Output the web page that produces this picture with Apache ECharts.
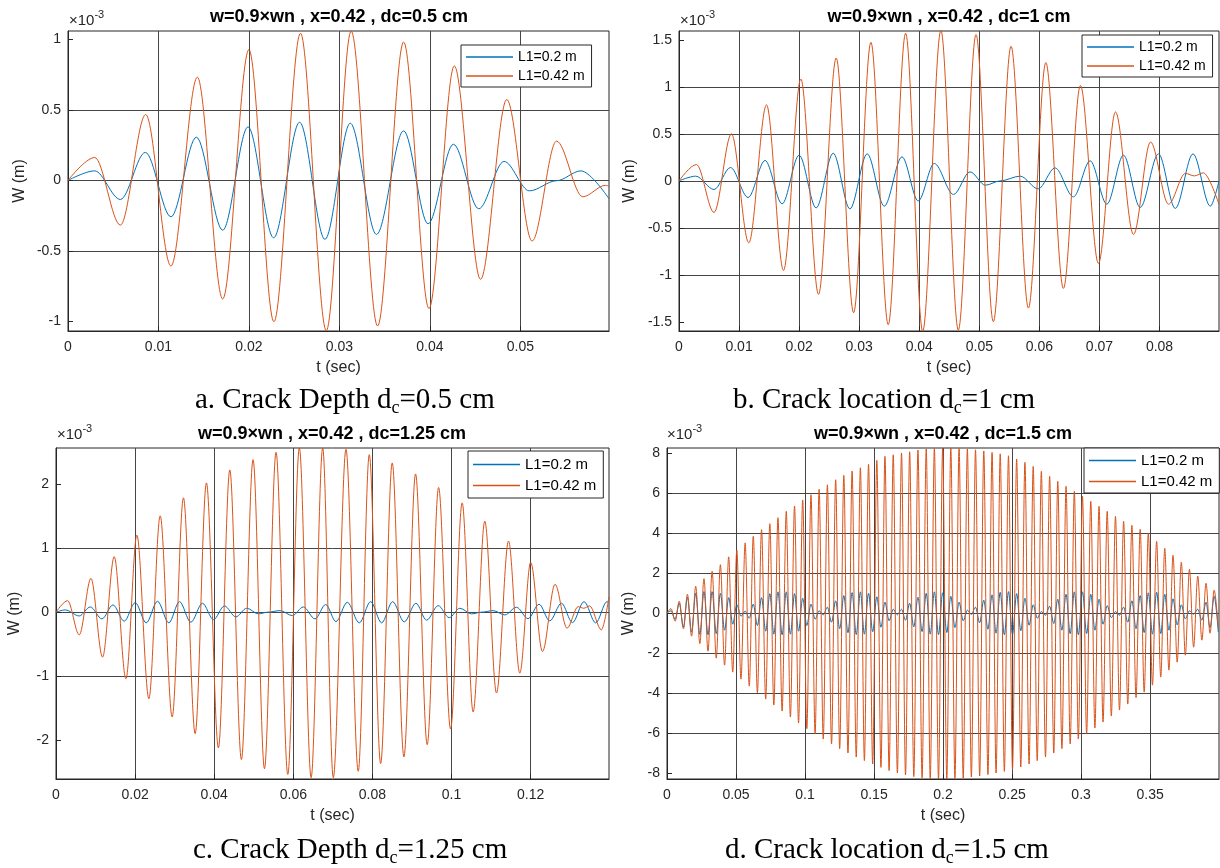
<!DOCTYPE html>
<html>
<head>
<meta charset="utf-8">
<script src="https://cdn.jsdelivr.net/npm/echarts@6/dist/echarts.min.js"></script>
<style>
  html, body { margin: 0; padding: 0; background: #ffffff; }
  #chart { width: 1220px; height: 868px; }
</style>
</head>
<body>
<div id="chart"></div>
<script>
// Legend entries shared by all four panels
const SERIES_NAMES = ['L1=0.2 m', 'L1=0.42 m'];
const SERIES_COLORS = ['#0072BD', '#D95319'];

// Panel titles and figure captions
const PANEL_TITLES = [
  'w=0.9×wn , x=0.42 , dc=0.5 cm',
  'w=0.9×wn , x=0.42 , dc=1 cm',
  'w=0.9×wn , x=0.42 , dc=1.25 cm',
  'w=0.9×wn , x=0.42 , dc=1.5 cm'
];
const CAPTIONS = [
  ['a. Crack Depth d', 'c', '=0.5 cm'],
  ['b. Crack location d', 'c', '=1 cm'],
  ['c. Crack Depth d', 'c', '=1.25 cm'],
  ['d. Crack location d', 'c', '=1.5 cm']
];

// Axis extents (t in s, W in 1e-3 m) and tick values
const X_MAX = [0.0598, 0.0899, 0.1398, 0.3999];
const X_STEP = [0.01, 0.01, 0.02, 0.05];
const Y_MIN = [-1.069, -1.597, -2.6, -8.3];
const Y_MAX = [1.061, 1.594, 2.56, 8.27];
const Y_TICKS_A = [-1, -0.5, 0, 0.5, 1];
const Y_TICKS_B = [-1.5, -1, -0.5, 0, 0.5, 1, 1.5];
const Y_TICKS_C = [-2, -1, 0, 1, 2];
const Y_TICKS_D = [-8, -6, -4, -2, 0, 2, 4, 6, 8];

// Response extrema [t (s), W (1e-3 m)] -- panel a, dc = 0.5 cm
const A_SHORT = [
  [0, 0], [0.00295, 0.068], [0.00579, -0.135], [0.00855, 0.199], [0.01138, -0.258],
  [0.01419, 0.307], [0.0171, -0.353], [0.0199, 0.38], [0.02273, -0.407], [0.0256, 0.413],
  [0.0284, -0.418], [0.0312, 0.406], [0.0341, -0.383], [0.0371, 0.352], [0.0398, -0.308],
  [0.0426, 0.257], [0.0454, -0.201], [0.0482, 0.135], [0.0510, -0.074], [0.0540, -0.002],
  [0.0567, 0.068], [0.0598, -0.13]
];
const A_LONG = [
  [0, 0], [0.00295, 0.163], [0.00579, -0.317], [0.00859, 0.468], [0.01138, -0.608],
  [0.0143, 0.733], [0.0171, -0.842], [0.0200, 0.929], [0.02276, -1.003], [0.0257, 1.045],
  [0.02855, -1.067], [0.0313, 1.06], [0.03422, -1.033], [0.0371, 0.983], [0.0399, -0.91],
  [0.0427, 0.813], [0.0456, -0.702], [0.0485, 0.574], [0.0513, -0.43], [0.0540, 0.279],
  [0.0569, -0.116], [0.0594, -0.035], [0.0598, -0.04]
];

// Panel b, dc = 1 cm
const B_SHORT = [
  [0, 0], [0.00278, 0.05], [0.00583, -0.092], [0.00857, 0.142], [0.0115, -0.177],
  [0.01433, 0.217], [0.01717, -0.244], [0.0200, 0.273], [0.02283, -0.287], [0.02567, 0.294],
  [0.02845, -0.298], [0.03133, 0.287], [0.03417, -0.269], [0.03712, 0.255], [0.03983, -0.213],
  [0.0425, 0.185], [0.0457, -0.145], [0.04845, 0.096], [0.0510, -0.046], [0.0535, 0.0],
  [0.0568, 0.05], [0.0598, -0.085], [0.0626, 0.138], [0.06567, -0.17], [0.06845, 0.213],
  [0.07123, -0.248], [0.0740, 0.273], [0.07678, -0.283], [0.07983, 0.287], [0.08262, -0.293],
  [0.08557, 0.287], [0.08845, -0.269], [0.0899, 0.0]
];
const B_LONG = [
  [0, 0], [0.0029, 0.174], [0.00583, -0.336], [0.00873, 0.5], [0.01162, -0.659],
  [0.01457, 0.808], [0.0174, -0.952], [0.02028, 1.084], [0.02323, -1.207], [0.02617, 1.307],
  [0.02907, -1.403], [0.03195, 1.474], [0.03483, -1.53], [0.03773, 1.57], [0.04057, -1.6],
  [0.0436, 1.6], [0.0465, -1.587], [0.04945, 1.556], [0.05233, -1.498], [0.05528, 1.431],
  [0.05817, -1.353], [0.06107, 1.258], [0.064, -1.144], [0.06683, 1.014], [0.06983, -0.878],
  [0.07267, 0.733], [0.07567, -0.57], [0.0785, 0.414], [0.0815, -0.248], [0.0843, 0.079],
  [0.0858, 0.053], [0.0873, 0.085], [0.0899, -0.25]
];

// Panel c, dc = 1.25 cm
const C_SHORT = [
  [0, 0], [0.00234, 0.036], [0.00588, -0.058], [0.00866, 0.082], [0.01162, -0.104],
  [0.0144, 0.114], [0.01725, -0.14], [0.02003, 0.15], [0.0228, -0.166], [0.02566, 0.171],
  [0.02853, -0.166], [0.03121, 0.165], [0.03409, -0.156], [0.03702, 0.14], [0.0398, -0.115],
  [0.04258, 0.098], [0.04545, -0.073], [0.04823, 0.062], [0.05116, -0.026], [0.0535, 0.0],
  [0.05664, 0.025], [0.05975, -0.053], [0.06253, 0.082], [0.06548, -0.104], [0.06818, 0.12],
  [0.07078, -0.146], [0.07364, 0.155], [0.07667, -0.166], [0.07955, 0.165], [0.08232, -0.166],
  [0.0851, 0.165], [0.08803, -0.151], [0.09098, 0.14], [0.09369, -0.124], [0.09662, 0.103],
  [0.0994, -0.084], [0.1021, 0.062], [0.10505, -0.026], [0.1075, 0.0], [0.1105, 0.025],
  [0.11346, -0.042], [0.11641, 0.078], [0.11934, -0.1], [0.12212, 0.124], [0.12482, -0.135],
  [0.12778, 0.14], [0.13056, -0.162], [0.13348, 0.165], [0.13644, -0.166], [0.1393, 0.165],
  [0.1398, 0.16]
];
const C_LONG = [
  [0, 0], [0.00293, 0.18], [0.00588, -0.353], [0.00884, 0.528], [0.01177, -0.7],
  [0.01472, 0.865], [0.01768, -1.037], [0.02045, 1.202], [0.02348, -1.348], [0.02634, 1.503],
  [0.02937, -1.633], [0.03222, 1.783], [0.03518, -1.893], [0.03803, 2.016], [0.04106, -2.115],
  [0.04394, 2.218], [0.04687, -2.297], [0.04982, 2.379], [0.0527, -2.44], [0.05563, 2.493],
  [0.0586, -2.53], [0.06152, 2.56], [0.0645, -2.58], [0.06742, 2.56], [0.0701, -2.58],
  [0.07331, 2.54], [0.07641, -2.48], [0.0792, 2.457], [0.08207, -2.36], [0.085, 2.327],
  [0.08795, -2.255], [0.0909, 2.156], [0.09384, -2.064], [0.09672, 1.944], [0.09975, -1.82],
  [0.10268, 1.705], [0.10545, -1.555], [0.1084, 1.42], [0.11136, -1.26], [0.1144, 1.109],
  [0.11725, -0.949], [0.12, 0.778], [0.12298, -0.613], [0.12616, 0.435], [0.12919, -0.249],
  [0.132, 0.087], [0.1334, 0.062], [0.1349, 0.098], [0.13788, -0.275], [0.1398, 0.243]
];

// Panel d, dc = 1.5 cm
const D_SHORT = [
  [0, 0],
  [0.0029, 0.12], [0.0059, -0.3], [0.0089, 0.5], [0.0119, -0.7], [0.0148, 0.8], [0.0178, -0.95],
  [0.0208, 1.0], [0.0238, -1.06], [0.0268, 1.08], [0.0297, -1.08], [0.0327, 1.08], [0.0357, -1.02],
  [0.0387, 1.0], [0.0417, -0.85], [0.0447, 0.78], [0.0476, -0.55], [0.0506, 0.42], [0.0536, -0.15],
  [0.0566, 0.1], [0.0596, -0.25], [0.0625, 0.45], [0.0655, -0.62], [0.0685, 0.78], [0.0715, -0.9],
  [0.0745, 0.98], [0.0774, -1.05], [0.0804, 1.07], [0.0834, -1.08], [0.0864, 1.07], [0.0894, -1.05],
  [0.0924, 0.98], [0.0953, -0.9], [0.0983, 0.75], [0.1013, -0.62], [0.1043, 0.45], [0.1073, -0.3],
  [0.1102, 0.12], [0.1132, -0.08], [0.1162, 0.3], [0.1192, -0.45], [0.1222, 0.62], [0.1251, -0.78],
  [0.1281, 0.88], [0.1311, -0.98], [0.1341, 1.03], [0.1371, -1.07], [0.1401, 1.07], [0.1430, -1.05],
  [0.1460, 1.0], [0.1490, -0.93], [0.1520, 0.82], [0.1550, -0.7], [0.1579, 0.55], [0.1609, -0.38],
  [0.1639, 0.2], [0.1669, -0.08], [0.1699, 0.2], [0.1728, -0.35], [0.1758, 0.5], [0.1788, -0.68],
  [0.1818, 0.8], [0.1848, -0.92], [0.1878, 1.0], [0.1907, -1.05], [0.1937, 1.07], [0.1967, -1.07],
  [0.1997, 1.02], [0.2027, -0.97], [0.2056, 0.85], [0.2086, -0.72], [0.2116, 0.55], [0.2146, -0.38],
  [0.2176, 0.15], [0.2205, -0.06], [0.2235, 0.3], [0.2265, -0.48], [0.2295, 0.65], [0.2325, -0.8],
  [0.2355, 0.92], [0.2384, -1.0], [0.2414, 1.05], [0.2444, -1.08], [0.2474, 1.08], [0.2503, -1.05],
  [0.2533, 0.98], [0.2563, -0.88], [0.2593, 0.75], [0.2623, -0.6], [0.2653, 0.42], [0.2682, -0.25],
  [0.2712, 0.08], [0.2742, -0.1], [0.2772, 0.35], [0.2802, -0.52], [0.2831, 0.7], [0.2861, -0.85],
  [0.2891, 0.95], [0.2921, -1.03], [0.2951, 1.07], [0.2980, -1.08], [0.3010, 1.07], [0.3040, -1.02],
  [0.3070, 0.95], [0.3100, -0.85], [0.3130, 0.7], [0.3159, -0.55], [0.3189, 0.38], [0.3219, -0.22],
  [0.3249, 0.08], [0.3278, -0.1], [0.3308, 0.3], [0.3338, -0.45], [0.3368, 0.62], [0.3398, -0.78],
  [0.3428, 0.88], [0.3457, -0.97], [0.3487, 1.02], [0.3517, -1.05], [0.3547, 1.05], [0.3577, -1.02],
  [0.3606, 0.95], [0.3636, -0.85], [0.3666, 0.72], [0.3696, -0.58], [0.3726, 0.42], [0.3755, -0.28],
  [0.3785, 0.12], [0.3815, -0.05], [0.3845, 0.2], [0.3875, -0.35], [0.3905, 0.55], [0.3934, -0.72],
  [0.3964, 0.85], [0.3994, -0.95]
];
const D_LONG = [
  [0, 0],
  [0.0029, 0.23], [0.0059, -0.4], [0.0089, 0.6], [0.0119, -0.78], [0.0148, 0.95], [0.0178, -1.15],
  [0.0208, 1.35], [0.0238, -1.52], [0.0268, 1.73], [0.0297, -1.9], [0.0327, 2.1], [0.0357, -2.25],
  [0.0387, 2.43], [0.0417, -2.6], [0.0447, 2.82], [0.0476, -2.95], [0.0506, 3.15], [0.0536, -3.3],
  [0.0566, 3.52], [0.0596, -3.65], [0.0625, 3.85], [0.0655, -3.98], [0.0685, 4.18], [0.0715, -4.3],
  [0.0745, 4.48], [0.0774, -4.6], [0.0804, 4.78], [0.0834, -4.9], [0.0864, 5.1], [0.0894, -5.2],
  [0.0924, 5.37], [0.0953, -5.5], [0.0983, 5.67], [0.1013, -5.78], [0.1043, 5.93], [0.1073, -6.05],
  [0.1102, 6.2], [0.1132, -6.3], [0.1162, 6.43], [0.1192, -6.55], [0.1222, 6.68], [0.1251, -6.78],
  [0.1281, 6.9], [0.1311, -7.0], [0.1341, 7.12], [0.1371, -7.2], [0.1401, 7.28], [0.1430, -7.38],
  [0.1460, 7.45], [0.1490, -7.55], [0.1520, 7.65], [0.1550, -7.72], [0.1579, 7.85], [0.1609, -7.88],
  [0.1639, 7.93], [0.1669, -8.0], [0.1699, 8.02], [0.1728, -8.1], [0.1758, 8.08], [0.1788, -8.18],
  [0.1818, 8.17], [0.1848, -8.24], [0.1878, 8.22], [0.1907, -8.28], [0.1937, 8.25], [0.1967, -8.3],
  [0.1997, 8.27], [0.2027, -8.3], [0.2056, 8.27], [0.2086, -8.28], [0.2116, 8.25], [0.2146, -8.25],
  [0.2176, 8.22], [0.2205, -8.2], [0.2235, 8.18], [0.2265, -8.15], [0.2295, 8.12], [0.2325, -8.08],
  [0.2355, 8.05], [0.2384, -8.0], [0.2414, 7.98], [0.2444, -7.92], [0.2474, 7.88], [0.2503, -7.82],
  [0.2533, 7.72], [0.2563, -7.7], [0.2593, 7.55], [0.2623, -7.55], [0.2653, 7.35], [0.2682, -7.38],
  [0.2712, 7.1], [0.2742, -7.2], [0.2772, 6.85], [0.2802, -7.0], [0.2831, 6.6], [0.2861, -6.78],
  [0.2891, 6.35], [0.2921, -6.55], [0.2951, 6.1], [0.2980, -6.3], [0.3010, 5.85], [0.3040, -6.02],
  [0.3070, 5.6], [0.3100, -5.75], [0.3130, 5.35], [0.3159, -5.45], [0.3189, 5.1], [0.3219, -5.15],
  [0.3249, 4.85], [0.3278, -4.85], [0.3308, 4.6], [0.3338, -4.55], [0.3368, 4.4], [0.3398, -4.22],
  [0.3428, 4.2], [0.3457, -3.95], [0.3487, 4.0], [0.3517, -3.6], [0.3547, 3.6], [0.3577, -3.2],
  [0.3606, 3.25], [0.3636, -2.85], [0.3666, 2.9], [0.3696, -2.45], [0.3726, 2.55], [0.3755, -2.1],
  [0.3785, 2.2], [0.3815, -1.7], [0.3845, 1.85], [0.3875, -1.35], [0.3905, 1.5], [0.3934, -1.0],
  [0.3964, 1.15], [0.3994, -0.75]
];

const PANEL_DATA = [[A_SHORT, A_LONG], [B_SHORT, B_LONG], [C_SHORT, C_LONG], [D_SHORT, D_LONG]];
const PANEL_Y_TICKS = [Y_TICKS_A, Y_TICKS_B, Y_TICKS_C, Y_TICKS_D];

// ---- layout ----
const SANS = "'Liberation Sans', Arial, Helvetica, sans-serif";
const SERIF = "'Liberation Serif', 'Times New Roman', serif";
const INK = '#262626';
const GRID_LINE = '#454545';

const grids = [
  { left: 68, top: 31, width: 541, height: 300 },
  { left: 679, top: 31, width: 540, height: 300 },
  { left: 56, top: 448, width: 553, height: 331 },
  { left: 667, top: 448, width: 552, height: 331 }
];
const yNameGap = [40, 41, 33, 30];
const legendBoxes = [
  { left: 461, top: 45, fontSize: 14, gap: 3, pad: [4, 7, 3, 5] },
  { left: 1082, top: 35, fontSize: 14, gap: 3, pad: [4, 7, 3, 5] },
  { left: 468, top: 451, fontSize: 15, gap: 4, pad: [5, 7, 4, 5] },
  { left: 1084, top: 448, fontSize: 15, gap: 4, pad: [4, 7, 3, 5] }
];
const titleCenters = [[339, 17], [949, 17], [332, 434], [943, 434]];
const exponentPos = [[69, 9], [680, 9], [57, 423], [667, 423]];
const captionPos = [[195, 400], [733, 400], [193, 850], [725, 850]];

const option = {
  animation: false,
  backgroundColor: '#ffffff',
  textStyle: { fontFamily: SANS },
  title: PANEL_TITLES.map((t, i) => ({
    text: t,
    left: titleCenters[i][0],
    top: titleCenters[i][1] - 9,
    textAlign: 'center',
    padding: 0,
    textStyle: { fontFamily: SANS, fontSize: 18, fontWeight: 'bold', color: '#000' }
  })),
  grid: grids.map(g => Object.assign({
    show: true, borderColor: INK, borderWidth: 1, backgroundColor: '#fff', containLabel: false
  }, g)),
  legend: legendBoxes.map((b, i) => ({
    data: SERIES_NAMES.slice(),
    orient: 'vertical',
    left: b.left,
    top: b.top,
    padding: b.pad,
    itemGap: b.gap,
    icon: 'rect',
    itemWidth: 47,
    itemHeight: 1.3,
    selectedMode: false,
    backgroundColor: '#fff',
    borderColor: INK,
    borderWidth: 1,
    borderRadius: 0,
    textStyle: { fontFamily: SANS, fontSize: b.fontSize, color: '#000', lineHeight: b.fontSize + 2 }
  })),
  xAxis: grids.map((g, i) => ({
    type: 'value',
    gridIndex: i,
    min: 0,
    max: X_MAX[i],
    interval: X_STEP[i],
    name: 't (sec)',
    nameLocation: 'middle',
    nameGap: 29,
    nameTextStyle: { fontFamily: SANS, fontSize: 16, color: INK },
    axisLine: { show: true, onZero: false, lineStyle: { color: INK, width: 1 } },
    axisTick: { show: true, inside: true, length: 5, lineStyle: { color: INK } },
    axisLabel: { show: true, margin: 9, fontSize: 14, color: INK, fontFamily: SANS, showMaxLabel: false },
    splitLine: { show: true, showMinLine: false, showMaxLine: false, lineStyle: { color: GRID_LINE, width: 1 } }
  })),
  yAxis: grids.map((g, i) => ({
    type: 'value',
    gridIndex: i,
    min: Y_MIN[i],
    max: Y_MAX[i],
    name: 'W (m)',
    nameLocation: 'middle',
    nameGap: yNameGap[i],
    nameRotate: 90,
    nameTextStyle: { fontFamily: SANS, fontSize: 16, color: INK },
    axisLine: { show: true, onZero: false, lineStyle: { color: INK, width: 1 } },
    axisTick: { show: true, inside: true, length: 5, customValues: PANEL_Y_TICKS[i], lineStyle: { color: INK } },
    axisLabel: { show: true, margin: 7, fontSize: 14, color: INK, fontFamily: SANS, customValues: PANEL_Y_TICKS[i] },
    splitLine: { show: true, showMinLine: false, showMaxLine: false, lineStyle: { color: GRID_LINE, width: 1 } }
  })),
  series: [],
  graphic: []
};

// Two response curves per panel, smoothed through the extrema
PANEL_DATA.forEach((pair, i) => {
  pair.forEach((data, k) => {
    option.series.push({
      type: 'line',
      name: SERIES_NAMES[k],
      xAxisIndex: i,
      yAxisIndex: i,
      data: data,
      symbol: 'none',
      showSymbol: false,
      smooth: 0.33,
      smoothMonotone: 'x',
      clip: true,
      silent: true,
      z: 2 + k,
      lineStyle: { color: SERIES_COLORS[k], width: 1 },
      itemStyle: { color: SERIES_COLORS[k] }
    });
  });
});

// "×10^-3" exponent above each y axis
exponentPos.forEach(p => {
  option.graphic.push({
    type: 'text',
    x: p[0],
    y: p[1],
    silent: true,
    style: {
      text: '×10{s|-3}',
      fontFamily: SANS,
      fontSize: 15,
      lineHeight: 24,
      fill: INK,
      align: 'left',
      verticalAlign: 'top',
      rich: { s: { fontFamily: SANS, fontSize: 11, lineHeight: 12, verticalAlign: 'top', fill: INK } }
    }
  });
});

// Figure captions with subscript c
CAPTIONS.forEach((c, i) => {
  option.graphic.push({
    type: 'text',
    x: captionPos[i][0],
    y: captionPos[i][1],
    silent: true,
    style: {
      text: c[0] + '{s|' + c[1] + '}' + c[2],
      fontFamily: SERIF,
      fontSize: 29,
      lineHeight: 34,
      fill: '#000',
      align: 'left',
      verticalAlign: 'middle',
      rich: { s: { fontFamily: SERIF, fontSize: 18, lineHeight: 22, verticalAlign: 'bottom', fill: '#000' } }
    }
  });
});

const chart = echarts.init(document.getElementById('chart'), null, { renderer: 'canvas' });
chart.setOption(option);
</script>
</body>
</html>
